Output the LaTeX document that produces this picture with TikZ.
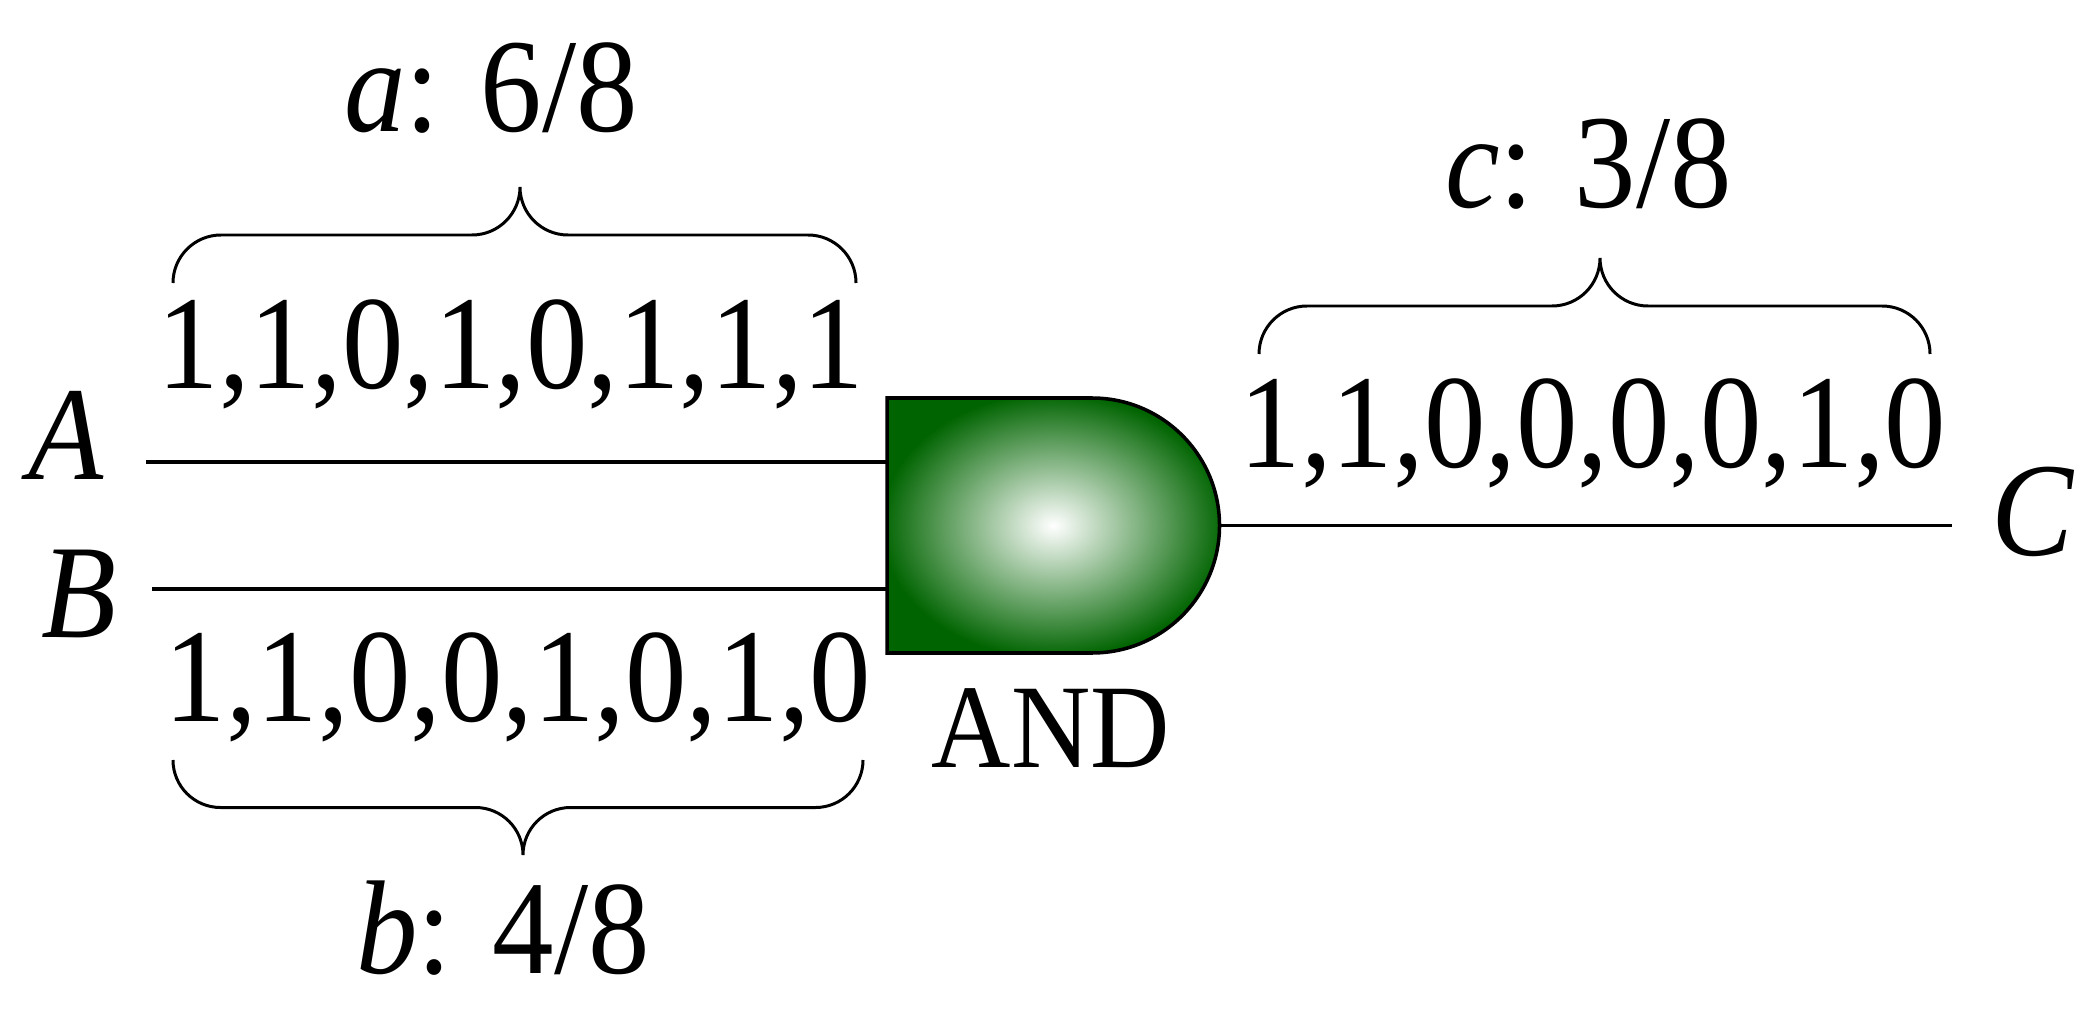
\documentclass[tikz,border=0pt]{standalone}
\usepackage{fontspec}
\setmainfont{Liberation Serif}[FakeStretch=0.92]
\usepackage{tikz}
\usetikzlibrary{calc}
\usepackage{xcolor}
\definecolor{GateGreen}{HTML}{006400}
\pgfdeclareradialshading{gateball}{\pgfpoint{0bp}{0bp}}{color(0bp)=(white); color(26bp)=(GateGreen); color(50bp)=(GateGreen)}

\begin{document}
\begin{tikzpicture}[
    bits/.style={font=\fontsize{38}{44}\selectfont,inner sep=0pt,anchor=base},
    gatetext/.style={font=\fontsize{34}{40}\selectfont,inner sep=0pt,anchor=base},
    wire/.style={line width=1pt},
    bracket/.style={line width=0.85pt},
    andgate/.style={line width=1pt,shading=gateball}]
   \useasboundingbox (0,0) rectangle (20.94,10.10);
   % the gate
   \shadedraw[andgate] (8.87,3.57) -- (8.87,6.12) -- (10.92,6.12)
      arc[start angle=90,end angle=-90,radius=1.275] -- cycle;
   \coordinate (gA) at (8.87,5.48);
   \coordinate (gB) at (8.87,4.21);
   \coordinate (gC) at (12.195,4.845);
   \node[gatetext] (and) at (10.51,2.43) {AND};
   % inputs and output
   \node[bits] (A) at (0.66,5.31) {\textit{A}};
   \node[bits] (B) at (0.79,3.73) {\textit{B}};
   \node[bits] (C) at (20.33,4.55) {\textit{C}};
   \coordinate (wA) at (1.46,5.48);
   \coordinate (wB) at (1.52,4.21);
   \coordinate (wC) at (19.52,4.845);
   \draw[wire] (wA) -- (gA);
   \draw[wire] (wB) -- (gB);
   \draw[wire] (gC) -- (wC);
   % bit streams
   \node[bits] (bitsA) at (5.11,6.21) {1,1,0,1,0,1,1,1};
   \node[bits] (bitsB) at (5.18,2.89) {1,1,0,0,1,0,1,0};
   \node[bits] (bitsC) at (15.93,5.42) {1,1,0,0,0,0,1,0};
   % braces
   \draw[bracket] (1.73,7.27) arc[start angle=180,end angle=90,radius=0.48] -- (4.72,7.75)
      arc[start angle=-90,end angle=0,radius=0.48] arc[start angle=180,end angle=270,radius=0.48]
      -- (8.08,7.75) arc[start angle=90,end angle=0,radius=0.48];
   \draw[bracket] (1.73,2.50) arc[start angle=180,end angle=270,radius=0.475] -- (4.755,2.025)
      arc[start angle=90,end angle=0,radius=0.475] arc[start angle=180,end angle=90,radius=0.475]
      -- (8.155,2.025) arc[start angle=270,end angle=360,radius=0.475];
   \draw[bracket] (12.59,6.56) arc[start angle=180,end angle=90,radius=0.48] -- (15.52,7.04)
      arc[start angle=-90,end angle=0,radius=0.48] arc[start angle=180,end angle=270,radius=0.48]
      -- (18.82,7.04) arc[start angle=90,end angle=0,radius=0.48];
   % probabilities
   \node[bits] (pa) at (4.91,8.78) {\textit{a}: 6/8};
   \node[bits] (pb) at (5.03,0.37) {\textit{b}: 4/8};
   \node[bits] (pc) at (15.885,8.02) {\textit{c}: 3/8};
\end{tikzpicture}
\end{document}
